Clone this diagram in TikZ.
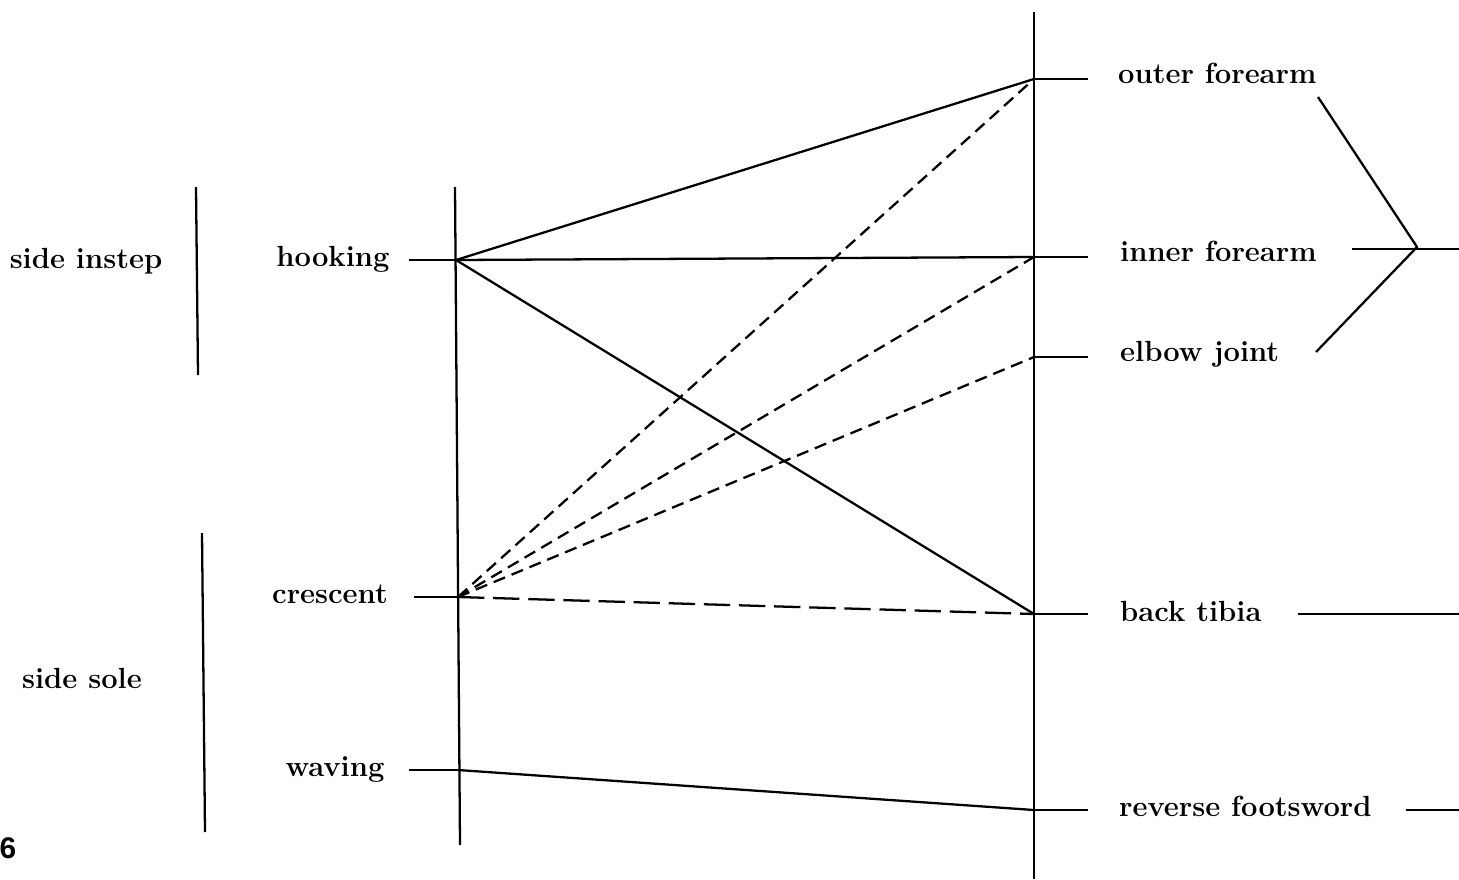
\documentclass[tikz,border=0pt]{standalone}
\usepackage{fontspec}
\newfontfamily\figfont{Liberation Sans}
\usetikzlibrary{positioning}
\begin{document}
\begin{tikzpicture}[x=0.02cm, y=-0.02cm, line width=1.3pt,
    lbl/.style={font=\fontsize{16.6}{19}\selectfont\bfseries, inner sep=0pt},
    dash link/.style={dash pattern=on 7pt off 4pt},
    long dash/.style={dash pattern=on 15pt off 5pt}]
  \useasboundingbox (0,0) rectangle (1459,879);

  % the two axes
  \coordinate (ltop) at (455,187);
  \coordinate (lbot) at (460,845);
  \coordinate (rtop) at (1034,12);
  \coordinate (rbot) at (1034,879);
  \draw (ltop) -- (lbot);
  \draw (rtop) -- (rbot);

  % kicks
  \coordinate (hk) at (456,260);
  \coordinate (cr) at (458,597);
  \coordinate (wv) at (458,770);
  \node[lbl] (hooking)  at (333,259) {hooking};
  \node[lbl] (crescent) at (330,594) {crescent};
  \node[lbl] (waving)   at (335,770) {waving};
  \draw (hk) -- +(-47,0);
  \draw (cr) -- +(-44,0);
  \draw (wv) -- +(-49,0);

  % targets
  \coordinate (of) at (1034,79);
  \coordinate (if) at (1034,257);
  \coordinate (ej) at (1034,357);
  \coordinate (bt) at (1034,614);
  \coordinate (rf) at (1034,810);
  \node[lbl, anchor=west] (outer)   at (1117,73)  {outer forearm};
  \node[lbl, anchor=west] (inner)   at (1119,251) {inner forearm};
  \node[lbl, anchor=west] (elbow)   at (1119,354) {elbow joint};
  \node[lbl, anchor=west] (tibia)   at (1119,611) {back tibia};
  \node[lbl, anchor=west] (reverse) at (1118,806) {reverse footsword};
  \foreach \t in {of,if,ej,bt,rf}
    \draw (\t) -- +(54,0);

  % parts of the foot
  \node[lbl] (instep) at (86,261) {side instep};
  \node[lbl] (sole)   at (82,678) {side sole};
  \draw (196,187) -- (198,375);
  \draw (202,533) -- (205,832);

  % links
  \draw (hk) -- (of);
  \draw (hk) -- (if);
  \draw (hk) -- (bt);
  \draw[dash link] (cr) -- (of);
  \draw[dash link] (cr) -- (if);
  \draw[dash link] (cr) -- (ej);
  \draw[long dash] (cr) -- (bt);
  \draw (wv) -- (rf);

  % grouping on the right
  \coordinate (jn) at (1417,247);
  \draw (1318,97) -- (jn) -- (1316,352);
  \draw (1352,249) -- (1459,249);
  \draw (tibia.east) ++(35,3) -- (1459,614);
  \draw (reverse.east) ++(33,4) -- (1459,810);

  \node[font=\fontsize{17}{19}\selectfont\figfont\bfseries] (fig) at (8,848) {6};
\end{tikzpicture}
\end{document}
